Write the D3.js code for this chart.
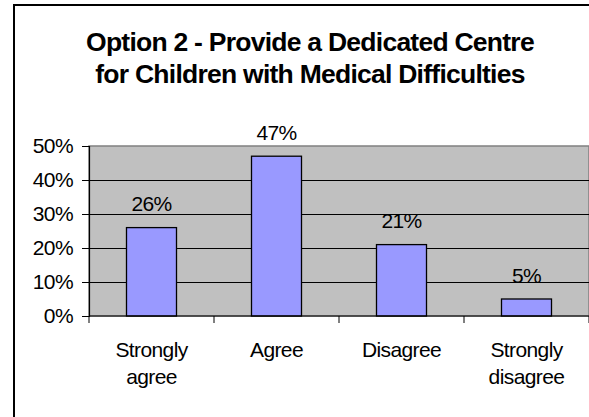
<!DOCTYPE html>
<html>
<head>
<meta charset="utf-8">
<script src="https://cdn.jsdelivr.net/npm/d3@7/dist/d3.min.js"></script>
<style>
  html, body { margin: 0; padding: 0; background: #fff; }
  svg { display: block; }
  text { font-family: "Liberation Sans", Arial, sans-serif; fill: #000; }
</style>
</head>
<body>
<svg id="chart" width="589" height="417"></svg>
<script>
// Survey responses for Option 2
const titleLines = ["Option 2 - Provide a Dedicated Centre", "for Children with Medical Difficulties"];
const categories = [["Strongly", "agree"], ["Agree"], ["Disagree"], ["Strongly", "disagree"]];
const values = [0.26, 0.47, 0.21, 0.05];
const yTicks = [0, 0.1, 0.2, 0.3, 0.4, 0.5];

const svg = d3.select("#chart");
const labelSize = 21, labelSpacing = -0.6;

// Outer chart frame
svg.append("rect")
  .attr("x", 14).attr("y", 5)
  .attr("width", 620).attr("height", 440)
  .attr("fill", "#fff")
  .attr("stroke", "#000")
  .attr("stroke-width", 2);

// Title
const title = svg.append("text")
  .attr("text-anchor", "middle")
  .attr("font-weight", "bold")
  .attr("font-size", 26.5)
  .attr("letter-spacing", -0.75);
titleLines.forEach((t, i) => {
  title.append("tspan")
    .attr("x", 310)
    .attr("y", 51 + i * 32)
    .text(t);
});

// Plot area
const plotLeft = 89, plotRight = 589, plotTop = 146, plotBottom = 316;
const x = d3.scaleBand()
  .domain(categories.map((c, i) => i))
  .range([plotLeft, plotRight])
  .paddingInner(0.6)
  .paddingOuter(0.3);
const y = d3.scaleLinear().domain([0, 0.5]).range([plotBottom, plotTop]);

svg.append("rect")
  .attr("x", plotLeft).attr("y", plotTop)
  .attr("width", plotRight - plotLeft).attr("height", plotBottom - plotTop)
  .attr("fill", "#c0c0c0")
  .attr("stroke", "#808080")
  .attr("stroke-width", 1.5);

// Gridlines
svg.append("g")
  .selectAll("line")
  .data(yTicks.filter(v => v > 0 && v < 0.5))
  .join("line")
  .attr("x1", plotLeft).attr("x2", plotRight)
  .attr("y1", d => Math.round(y(d)) + 0.5)
  .attr("y2", d => Math.round(y(d)) + 0.5)
  .attr("stroke", "#000")
  .attr("stroke-width", 1);

// Bars
svg.append("g")
  .selectAll("rect")
  .data(values)
  .join("rect")
  .attr("x", (d, i) => x(i))
  .attr("y", d => y(d))
  .attr("width", x.bandwidth())
  .attr("height", d => plotBottom - y(d))
  .attr("fill", "#9999ff")
  .attr("stroke", "#000")
  .attr("stroke-width", 1.3);

// Value labels
svg.append("g")
  .selectAll("text")
  .data(values)
  .join("text")
  .attr("x", (d, i) => x(i) + x.bandwidth() / 2)
  .attr("y", d => y(d) - 16.5)
  .attr("text-anchor", "middle")
  .attr("font-size", labelSize)
  .attr("letter-spacing", labelSpacing)
  .text(d => Math.round(d * 100) + "%");

// Y axis
const yAxis = d3.axisLeft(y)
  .tickValues(yTicks)
  .tickFormat(d3.format(".0%"))
  .tickSize(7)
  .tickPadding(9);
const yg = svg.append("g").attr("transform", `translate(${plotLeft},0)`).call(yAxis);
yg.select(".domain").attr("stroke", "#000").attr("stroke-width", 1.2);
yg.selectAll(".tick line").attr("stroke", "#000");
yg.selectAll(".tick text")
  .attr("font-size", labelSize)
  .attr("letter-spacing", labelSpacing)
  .attr("font-family", "Liberation Sans, Arial, sans-serif")
  .attr("fill", "#000");

// X axis baseline and category separators
svg.append("line")
  .attr("x1", plotLeft).attr("x2", plotRight)
  .attr("y1", plotBottom).attr("y2", plotBottom)
  .attr("stroke", "#000").attr("stroke-width", 1.2);
const sepX = d3.range(categories.length + 1).map(i => plotLeft + i * x.step());
svg.append("g")
  .selectAll("line")
  .data(sepX)
  .join("line")
  .attr("x1", d => d).attr("x2", d => d)
  .attr("y1", plotBottom).attr("y2", plotBottom + 7)
  .attr("stroke", "#000").attr("stroke-width", 1);

// Category labels
const cat = svg.append("g")
  .selectAll("text")
  .data(categories)
  .join("text")
  .attr("text-anchor", "middle")
  .attr("font-size", labelSize)
  .attr("letter-spacing", labelSpacing);
cat.each(function(lines, i) {
  const cx = x(i) + x.bandwidth() / 2;
  lines.forEach((l, j) => {
    d3.select(this).append("tspan")
      .attr("x", cx)
      .attr("y", 357 + j * 27)
      .text(l);
  });
});
</script>
</body>
</html>
